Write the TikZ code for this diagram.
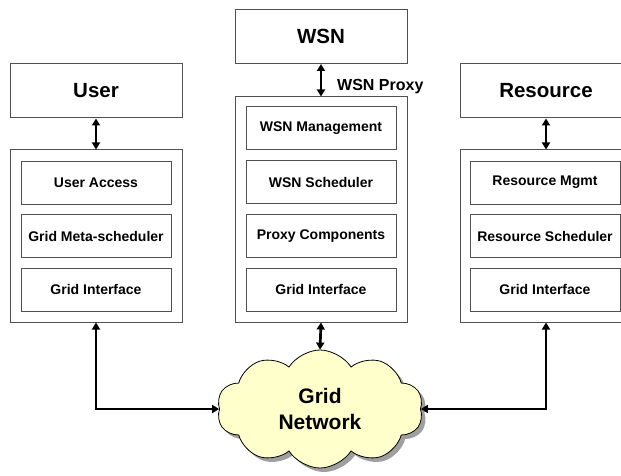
\documentclass[tikz,border=0pt]{standalone}
\usepackage{fontspec}
\setmainfont{Liberation Sans}
\usetikzlibrary{shapes.symbols,shadows,arrows.meta}
\definecolor{boxline}{HTML}{505050}
\definecolor{cloudfill}{HTML}{FFFFCC}
\tikzset{
  bigbox/.style={draw=boxline, line width=1pt, minimum width=172pt, minimum height=54pt, inner sep=0pt, font=\bfseries\fontsize{20.5}{24}\selectfont},
  outerbox/.style={draw=boxline, line width=1pt, minimum width=172pt, inner sep=0pt},
  innerbox/.style={draw=boxline, line width=1pt, minimum width=150pt, minimum height=43pt, inner sep=0pt, font=\bfseries\fontsize{14}{16}\selectfont},
  link/.style={line width=2.7pt, {Triangle[length=7pt,width=8pt]}-{Triangle[length=7pt,width=8pt]}},
  grid/.style={cloud, cloud puffs=10, cloud puff arc=115, cloud ignores aspect, draw=black, line width=0.8pt, fill=cloudfill, minimum width=206pt, minimum height=118pt, inner sep=0pt, drop shadow={shadow xshift=4pt, shadow yshift=-4pt, fill=gray!75, opacity=1}, font=\bfseries\fontsize{21}{26}\selectfont, align=center}
}
\begin{document}
\begin{tikzpicture}[x=1pt,y=-1pt]
\useasboundingbox (0,0) rectangle (621,476);
\clip (0,0) rectangle (621,476);
% top boxes
\node[bigbox] (user) at (96,91) {User};
\node[bigbox] (wsn) at (321,36.5) {WSN};
\node[bigbox] (res) at (546,91) {Resource};
% outer boxes
\node[outerbox, minimum height=172pt] (lo) at (96,236) {};
\node[outerbox, minimum height=225pt] (mo) at (321,209.5) {};
\node[outerbox, minimum height=172pt] (ro) at (546,236) {};
% inner boxes left
\node[innerbox] (ua) at (96,182.5) {User Access};
\node[innerbox] (gm) at (96,236) {Grid Meta-scheduler};
\node[innerbox] (gil) at (96,289.5) {Grid Interface};
% inner boxes middle
\node[innerbox] (wm) at (321,128.5) {WSN Management};
\node[innerbox] (ws) at (321,182) {WSN Scheduler};
\node[innerbox] (pc) at (321,236) {Proxy Components};
\node[innerbox] (gim) at (321,289.5) {Grid Interface};
% inner boxes right
\node[innerbox] (rm) at (545,182.5) {Resource Mgmt};
\node[innerbox] (rs) at (545,236) {Resource Scheduler};
\node[innerbox] (gir) at (545,289.5) {Grid Interface};
% cloud
\node[grid] (net) at (320,409) {Grid\\Network};
% proxy label
\node[anchor=west, inner sep=0pt, font=\bfseries\fontsize{16}{18}\selectfont] (proxy) at (337,87) {WSN Proxy};
% connectors
\draw[link] (user.south) -- (lo.north);
\draw[link] (wsn.south) -- (mo.north);
\draw[link] (res.south) -- (ro.north);
\draw[link] (lo.south) |- (net.west);
\draw[link] (mo.south) -- (net.north);
\draw[link] (ro.south) |- (net.east);
\end{tikzpicture}
\end{document}
